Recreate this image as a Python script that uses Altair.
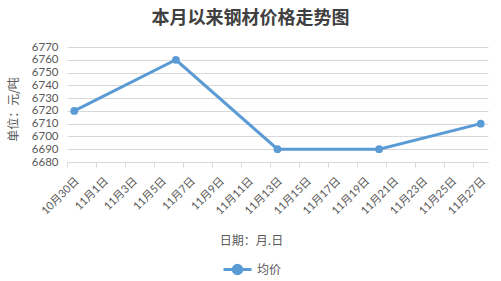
import altair as alt
import pandas as pd

# data
dates = ["2023-10-30", "2023-11-06", "2023-11-13", "2023-11-20", "2023-11-27"]
prices = [6720, 6760, 6690, 6690, 6710]
series_name = "均价"
tick_labels = ["10月30日", "11月1日", "11月3日", "11月5日", "11月7日", "11月9日",
               "11月11日", "11月13日", "11月15日", "11月17日", "11月19日",
               "11月21日", "11月23日", "11月25日", "11月27日"]
y_ticks = [6680, 6690, 6700, 6710, 6720, 6730, 6740, 6750, 6760, 6770]

start = pd.Timestamp("2023-10-30")
df = pd.DataFrame({
    "date": dates,
    "price": prices,
    "series": series_name,
})
# each day is a category slot; points sit in the middle of their day slot
df["day"] = [(pd.Timestamp(d) - start).days + 0.5 for d in dates]

tick_vals = [2 * i for i in range(len(tick_labels))]
label_arr = "[" + ",".join("'" + t + "'" for t in tick_labels) + "]"

FONT = "Noto Sans CJK SC"
NUMFONT = "Lato, Noto Sans CJK SC"
BLUE = "#5b9bd5"
GRID = "#d9d9d9"
TXT = "#595959"

chart = alt.Chart(df).mark_line(
    strokeWidth=3, point=alt.OverlayMarkDef(size=60, filled=True, opacity=1)
).encode(
    x=alt.X("day:Q",
            scale=alt.Scale(domain=[0, 29], nice=False, zero=False),
            axis=alt.Axis(values=tick_vals,
                          labelExpr=label_arr + "[datum.value/2]",
                          labelAngle=315, labelAlign="right", labelBaseline="middle",
                          labelPadding=12, labelOffset=10, labelFontSize=11,
                          labelColor=TXT,
                          labelFont=NUMFONT, labelOverlap=False, labelBound=False,
                          grid=False, domainColor=GRID, tickColor=GRID, tickSize=5,
                          title="日期：月.日", titleFont=FONT, titleFontSize=12,
                          titleFontWeight="normal", titleColor=TXT,
                          titleX=184, titleY=78, titleBaseline="middle",
                          titleAlign="center")),
    y=alt.Y("price:Q",
            scale=alt.Scale(domain=[6680, 6770], nice=False, zero=False),
            axis=alt.Axis(values=y_ticks, ticks=False, domain=False, format="d",
                          gridColor=GRID, labelFontSize=11.5, labelColor=TXT,
                          labelFont=NUMFONT, labelPadding=9,
                          title="单位：元/吨", titleFont=FONT, titleFontSize=12,
                          titleFontWeight="normal", titleColor=TXT,
                          titleX=-54, titleY=62, titleAngle=270,
                          titleBaseline="middle", titleAlign="center")),
    color=alt.Color("series:N", scale=alt.Scale(range=[BLUE]),
                    legend=alt.Legend(title=None, orient="none", legendX=155,
                                      legendY=207, labelFont=FONT, labelFontSize=12,
                                      labelColor=TXT,
                                      symbolType="M-1,0L1,0M0.3,0A0.3,0.3,0,1,1,-0.3,0A0.3,0.3,0,1,1,0.3,0",
                                      symbolSize=784, symbolStrokeWidth=3,
                                      symbolFillColor=BLUE, symbolStrokeColor=BLUE)),
).properties(
    width=421, height=115,
    title=alt.TitleParams("本月以来钢材价格走势图", font=FONT, fontSize=18,
                          fontWeight="bold", color="#404040", anchor="middle",
                          dx=-27, offset=13),
    padding={"left": 67, "top": 47, "right": 13, "bottom": 119},
    autosize=alt.AutoSizeParams(type="none"),
).configure_view(stroke=None)

chart.save("out.html", embed_options={"renderer": "svg", "actions": False})
